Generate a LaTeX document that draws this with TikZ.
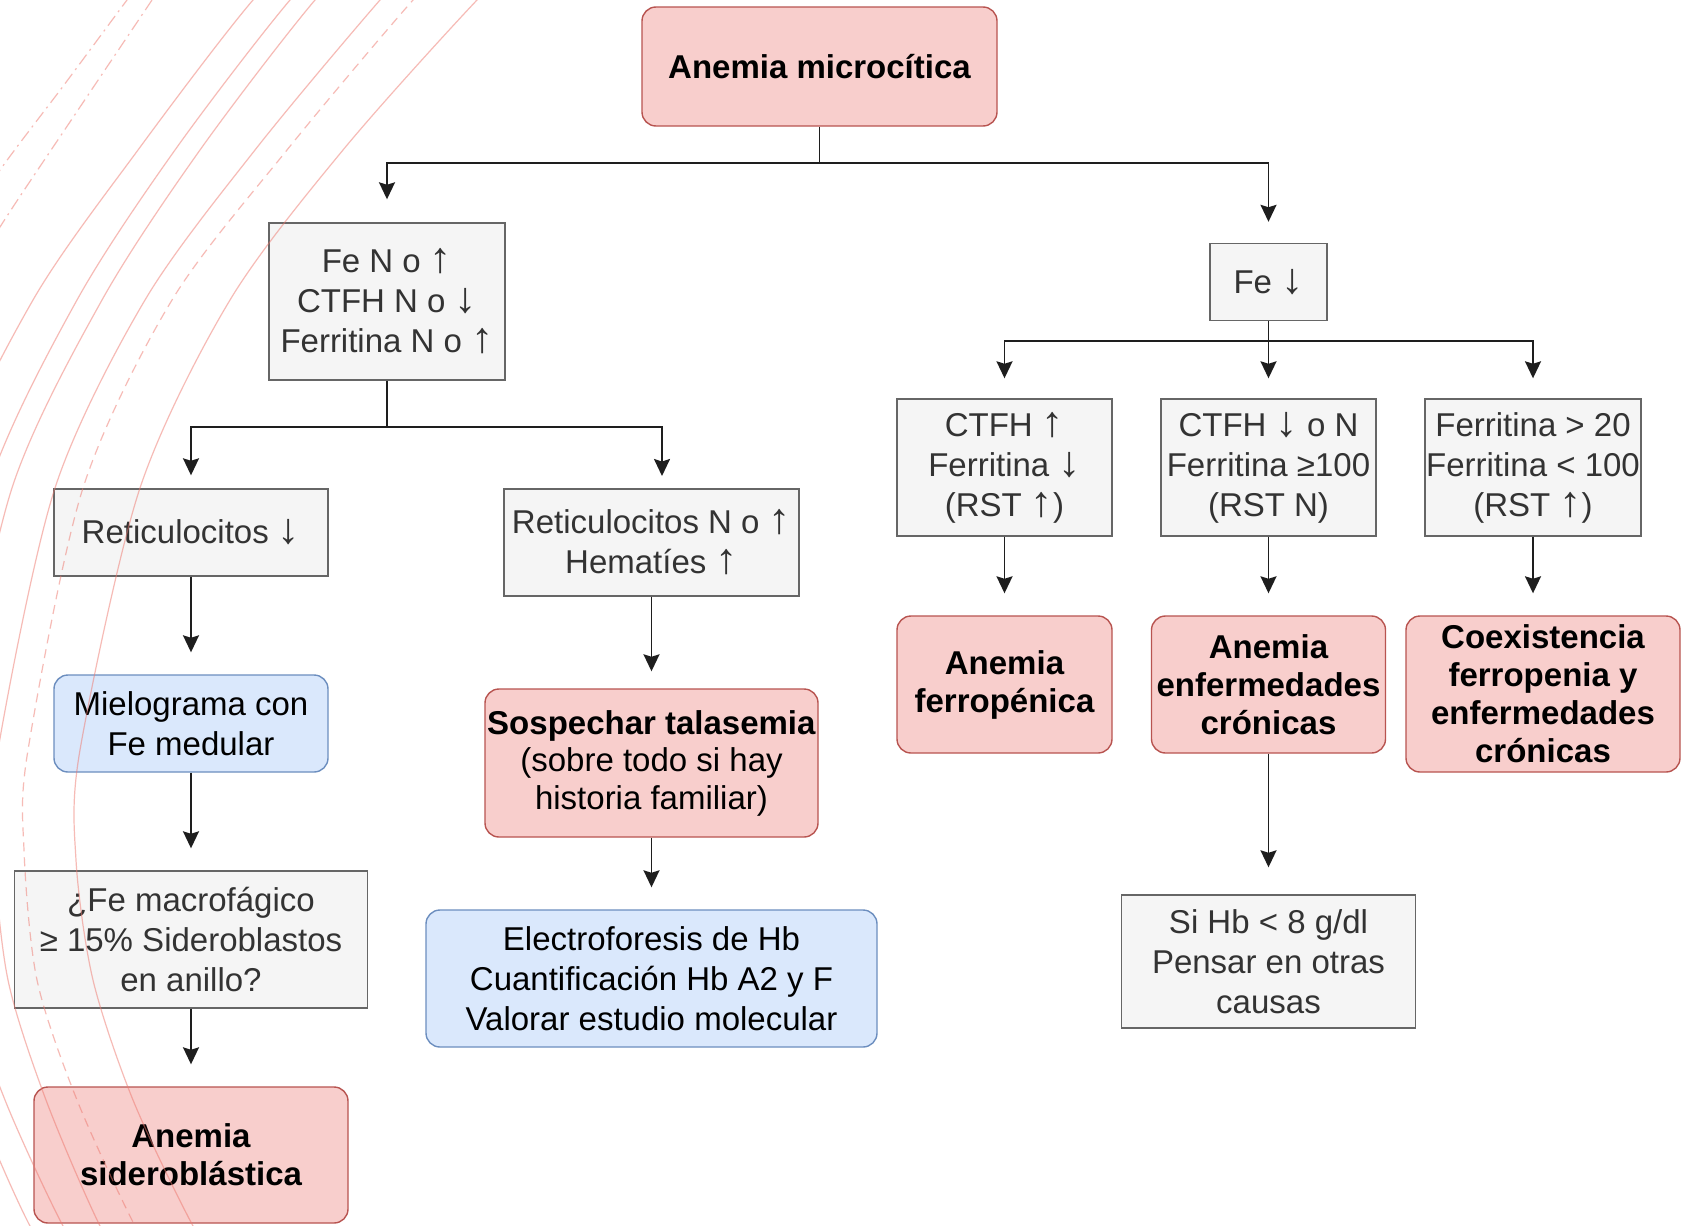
\documentclass[tikz,border=0pt]{standalone}
\usepackage{fontspec}
\setmainfont{Liberation Sans}
\usetikzlibrary{arrows.meta}

\definecolor{pinkfill}{HTML}{F8CECC}
\definecolor{pinkline}{HTML}{B85450}
\definecolor{bluefill}{HTML}{DAE8FC}
\definecolor{blueline}{HTML}{6C8EBF}
\definecolor{grayfill}{HTML}{F5F5F5}
\definecolor{grayline}{HTML}{666666}
\definecolor{graytext}{HTML}{333333}
\definecolor{linkcol}{HTML}{1E1E1E}
\definecolor{arcred}{HTML}{EE786E}

% heavier, cap-high arrow glyphs for the lab values
\newcommand\uarr{\scalebox{1.35}[1.3]{↑}}
\newcommand\darr{\scalebox{1.35}[1.3]{↓}}

\tikzset{
  base/.style={align=center, inner sep=0pt, line width=1.4pt},
  regtext/.style={font=\fontsize{33}{40}\selectfont},
  boldtext/.style={font=\fontsize{33}{38}\selectfont\bfseries},
  graybox/.style={base, regtext, rectangle, fill=grayfill, draw=grayline, text=graytext},
  pinkbox/.style={base, boldtext, rounded corners=14pt, fill=pinkfill, draw=pinkline, text=black},
  bluebox/.style={base, regtext, rounded corners=14pt, fill=bluefill, draw=blueline, text=black},
  link/.style={line width=1.9pt, draw=linkcol},
  flow/.style={link, -{Stealth[length=17pt,width=16pt,inset=2.5pt]}, shorten >=#1},
  flow/.default=22pt,
  arcline/.style={draw=arcred, draw opacity=0.5, line width=1.2pt},
  arcdash/.style={arcline, dash pattern=on 9pt off 6pt},
  arcdashdot/.style={arcline, dash pattern=on 12pt off 5pt on 2pt off 5pt},
}

\begin{document}
\begin{tikzpicture}[x=1pt, y=-1pt]
\useasboundingbox (0,0) rectangle (1682,1226);
\fill[white] (0,0) rectangle (1682,1226);

% --- root ---
\node[pinkbox, minimum width=355pt, minimum height=119pt] (top) at (819.5,66.5) {Anemia microcítica};

% --- left branch: iron normal or high ---
\node[graybox, minimum width=236pt, minimum height=157pt] (fe1) at (387,301.5)
  {Fe N o \uarr\\CTFH N o \darr\\Ferritina N o \uarr};
\node[graybox, minimum width=274pt, minimum height=87pt] (rd) at (191,532.5) {Reticulocitos \darr};
\node[graybox, minimum width=295pt, minimum height=107pt] (rn) at (651.5,542.5)
  {Reticulocitos N o \uarr\\Hematíes \uarr};
\node[bluebox, minimum width=274pt, minimum height=97pt] (mie) at (191,723.5)
  {Mielograma con\\Fe medular};
\node[graybox, minimum width=353pt, minimum height=137pt] (mac) at (191,939.5)
  {¿Fe macrofágico\\≥ 15\% Sideroblastos\\en anillo?};
\node[pinkbox, minimum width=314pt, minimum height=136pt] (sid) at (191,1155)
  {Anemia\\sideroblástica};
\node[pinkbox, minimum width=333pt, minimum height=148pt, font=\fontsize{33}{37.5}\selectfont] (tal) at (651.5,763)
  {\textbf{Sospechar talasemia}\\(sobre todo si hay\\historia familiar)};
\node[bluebox, minimum width=451pt, minimum height=137pt] (ele) at (651.5,978.5)
  {Electroforesis de Hb\\Cuantificación Hb A2 y F\\Valorar estudio molecular};

% --- right branch: iron low ---
\node[graybox, minimum width=117pt, minimum height=77pt] (fe2) at (1268.5,282) {Fe \darr};
\node[graybox, minimum width=215pt, minimum height=137pt] (c1) at (1004.5,467.5)
  {CTFH \uarr\\Ferritina \darr\\(RST \uarr)};
\node[graybox, minimum width=215pt, minimum height=137pt] (c2) at (1268.5,467.5)
  {CTFH \darr{} o N\\Ferritina ≥100\\(RST N)};
\node[graybox, minimum width=216pt, minimum height=137pt] (c3) at (1533,467.5)
  {Ferritina > 20\\Ferritina < 100\\(RST \uarr)};
\node[pinkbox, minimum width=215pt, minimum height=137pt] (p1) at (1004.5,684.5)
  {Anemia\\ferropénica};
\node[pinkbox, minimum width=234pt, minimum height=137pt] (p2) at (1268.5,684.5)
  {Anemia\\enfermedades\\crónicas};
\node[pinkbox, minimum width=274pt, minimum height=156pt] (p3) at (1543,694)
  {Coexistencia\\ferropenia y\\enfermedades\\crónicas};
\node[graybox, minimum width=294pt, minimum height=133pt] (hb) at (1268.5,961.5)
  {Si Hb < 8 g/dl\\Pensar en otras\\causas};

% --- branching points ---
\coordinate (j0) at (819.5,163);
\coordinate (j1) at (387,427);
\coordinate (j2) at (1268.5,341);
\coordinate (rnin) at (662,489);

% --- connectors ---
\draw[link] (top.south) -- (j0);
\draw[flow=23pt] (j0) -| (fe1.north);
\draw[flow=21pt] (j0) -| (fe2.north);

\draw[link] (fe1.south) -- (j1);
\draw[flow=13pt] (j1) -| (rd.north);
\draw[flow=13pt] (j1) -| (rnin);

\draw[flow] (rd.south) -- (mie.north);
\draw[flow] (mie.south) -- (mac.north);
\draw[flow] (mac.south) -- (sid.north);
\draw[flow=17pt] (rn.south) -- (tal.north);
\draw[flow] (tal.south) -- (ele.north);

\draw[link] (fe2.south) -- (j2);
\draw[flow=20pt] (j2) -| (c1.north);
\draw[flow=20pt] (j2) -- (c2.north);
\draw[flow=20pt] (j2) -| (c3.north);

\draw[flow] (c1.south) -- (p1.north);
\draw[flow] (c2.south) -- (p2.north);
\draw[flow] (c3.south) -- (c3.south |- p3.north);
\draw[flow=27pt] (p2.south) -- (hb.north);

% --- decorative arcs in the upper left ---
\begin{scope}
\clip (0,0) rectangle (1682,1226);
\draw[arcline] plot[smooth] coordinates {(560,-80) (477,0) (343,150) (230,300) (140,488) (80,750) (76,860) (93,980) (133,1100) (193,1226) (240,1300)};
\draw[arcdash] plot[smooth] coordinates {(490,-80) (413,0) (287,150) (172,300) (83,488) (28,750) (24,850) (37,980) (77,1100) (135,1226) (180,1300)};
\draw[arcline] plot[smooth] coordinates {(455,-80) (380,0) (255,150) (145,300) (55,488) (-2,750) (-6,850) (8,980) (46,1100) (100,1226) (145,1300)};
\draw[arcline] plot[smooth] coordinates {(395,-80) (315,0) (200,150) (102,300) (12,488) (-44,750) (-48,850) (-35,980) (5,1100) (63,1226) (110,1300)};
\draw[arcline] plot[smooth] coordinates {(370,-80) (290,0) (175,150) (77,300) (-12,488) (-70,750) (-74,850) (-62,980) (-25,1100) (30,1226) (80,1300)};
\draw[arcline] plot[smooth] coordinates {(335,-80) (253,0) (138,150) (33,300) (-56,488) (-112,750) (-116,850) (-104,980) (-66,1100) (-5,1226) (45,1300)};
\draw[arcdashdot] plot[smooth] coordinates {(205,-80) (152,0) (76,113) (0,227) (-55,320)};
\draw[arcdashdot] plot[smooth] coordinates {(187,-80) (127,0) (64,85) (0,170) (-60,260)};
\end{scope}
\end{tikzpicture}
\end{document}
